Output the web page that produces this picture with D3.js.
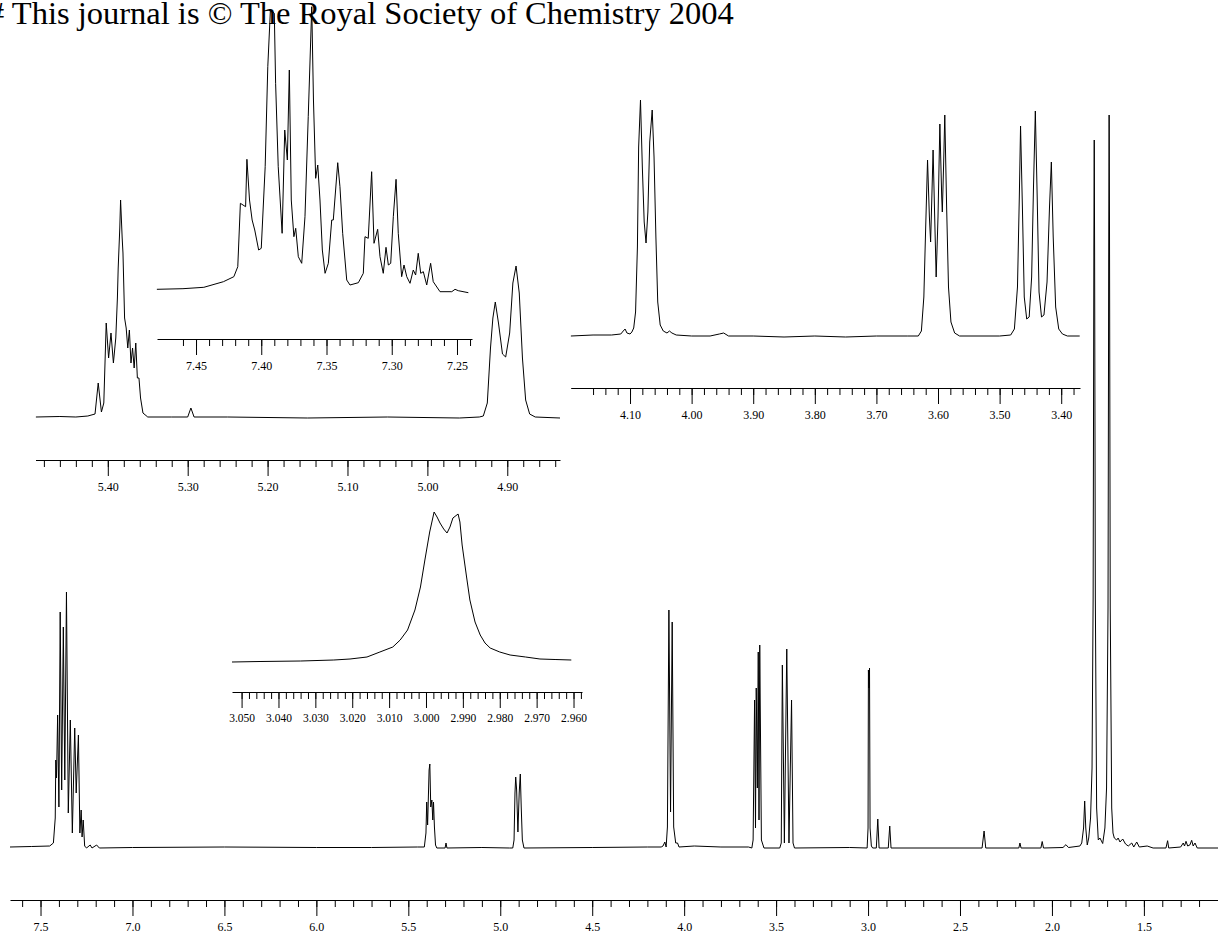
<!DOCTYPE html>
<html>
<head>
<meta charset="utf-8">
<script src="https://cdn.jsdelivr.net/npm/d3@7"></script>
<style>
  body { margin: 0; background: #fff; }
  svg { display: block; }
</style>
</head>
<body>
<div class="spectrum"></div>
<script>
// traced points [ppm, intensity]
const mainTrace = [
  [7.666,1],[7.55,1.5],[7.45,2],[7.430,5],[7.420,30],[7.417,88],[7.413,70],[7.407,133],[7.400,41],
  [7.393,236],[7.385,58],[7.376,221],[7.368,68],[7.359,256],[7.349,35],[7.338,128],[7.327,15],
  [7.314,120],[7.306,55],[7.294,113],[7.286,15],[7.279,38],[7.274,11],[7.268,28],[7.260,2],[7.25,0],
  [7.23,3],[7.22,0],[7.195,3],[7.18,0],[7.0,0.5],[6.5,1],[6.0,0.5],[5.7,0.5],[5.45,1],
  [5.413,1],[5.404,15],[5.400,46],[5.395,23],[5.387,78],[5.383,84],[5.378,41],[5.372,48],[5.367,28],
  [5.363,46],[5.358,21],[5.352,3],[5.345,0],[5.30,0],[5.295,5],[5.29,0],[5.1,0.5],[4.95,0],
  [4.932,0],[4.925,8],[4.920,55],[4.916,71],[4.911,58],[4.904,16],[4.897,55],[4.891,74],[4.886,41],
  [4.880,8],[4.871,0],[4.5,0.5],[4.2,1],[4.125,1],[4.115,2],[4.105,6],[4.098,1],[4.091,21],
  [4.083,238],[4.074,36],[4.065,226],[4.057,21],[4.046,5],[4.036,5],[4.028,1],[3.945,2],[3.8,1],
  [3.65,1],[3.632,0],[3.625,8],[3.617,148],[3.612,20],[3.608,160],[3.602,60],[3.597,196],[3.593,28],
  [3.589,203],[3.580,8],[3.566,0],[3.48,0],[3.472,5],[3.466,183],[3.455,5],[3.442,199],[3.430,5],
  [3.416,148],[3.408,5],[3.400,0],[3.1,0.5],[3.005,0],[3.000,20],[2.998,178],[2.995,160],[2.992,180],
  [2.989,20],[2.982,2],[2.975,0],[2.955,0],[2.947,29],[2.940,0],[2.89,0],[2.882,22],[2.875,0],
  [2.5,0],[2.38,0],[2.369,17],[2.36,0],[2.18,0],[2.174,5],[2.168,0],[2.06,0],[2.053,6.5],[2.046,0],
  [1.94,0.5],[1.924,3.3],[1.91,0.5],[1.848,2],[1.838,5],[1.828,20],[1.822,47],[1.816,20],[1.808,3],
  [1.800,10],[1.790,30],[1.782,80],[1.776,250],[1.772,600],[1.770,708],[1.768,600],[1.764,250],
  [1.757,40],[1.748,8],[1.739,10],[1.724,4.5],[1.712,20],[1.703,60],[1.695,240],[1.691,620],
  [1.689,733],[1.687,620],[1.683,240],[1.675,40],[1.668,15],[1.661,10],[1.648,8],[1.640,10],
  [1.630,6],[1.615,9],[1.600,4],[1.585,2],[1.566,5],[1.555,1],[1.539,6],[1.525,1],[1.482,2],
  [1.45,0],[1.38,0],[1.371,7.3],[1.365,0],[1.30,1],[1.286,5],[1.279,2],[1.271,6.7],[1.262,2],
  [1.250,3],[1.240,7.7],[1.232,2],[1.222,5],[1.210,0],[1.097,0]
];

const aromTrace = [
  [7.480,0.7],[7.460,1.3],[7.444,2.7],[7.429,8.3],[7.421,13.3],[7.418,23.3],[7.416,86.7],[7.412,83.3],
  [7.411,130.7],[7.409,90],[7.407,70],[7.405,60],[7.402,40],[7.400,41.7],[7.397,123.3],[7.395,223.3],
  [7.393,280],[7.390,276.7],[7.389,206.7],[7.387,123.3],[7.384,56.7],[7.382,160],[7.380,130],
  [7.3785,220],[7.377,90],[7.375,53.3],[7.3736,61.7],[7.3716,33.3],[7.369,26.7],[7.3665,73.3],
  [7.364,173.3],[7.3613,283.3],[7.360,190],[7.3583,111.7],[7.3567,125],[7.355,90],[7.3532,40],
  [7.3511,16.7],[7.3486,26.7],[7.346,70],[7.3448,70],[7.3414,127.3],[7.3397,103.3],[7.3376,56.7],
  [7.3345,10],[7.332,5],[7.3256,7.3],[7.3218,16.7],[7.3205,53.3],[7.318,51.7],[7.3154,118.3],
  [7.3136,46.7],[7.3108,60.7],[7.309,33.3],[7.3065,16.7],[7.3044,42.7],[7.3026,25],[7.3008,26.7],
  [7.2988,73.3],[7.2967,110.7],[7.295,56.7],[7.2924,13.3],[7.2906,25],[7.2885,13.3],[7.286,6.7],
  [7.2835,20],[7.2817,15],[7.2797,36.7],[7.2778,16.7],[7.2758,18.3],[7.2732,5],[7.2702,26.7],
  [7.2682,8.3],[7.263,-1.7],[7.254,-1.7],[7.2515,0.7],[7.249,-0.7],[7.2413,-2.7]
];

const olefTrace = [
  [5.490,1],[5.46,1.5],[5.44,1],[5.425,2],[5.416,4],[5.412,35],[5.408,6],[5.405,15],[5.402,95],
  [5.399,60],[5.396,85],[5.393,55],[5.390,80],[5.388,120],[5.387,150],[5.385,190],[5.384,218],
  [5.382,180],[5.381,165],[5.379,100],[5.377,90],[5.375,70],[5.373,88],[5.371,55],[5.369,70],
  [5.367,50],[5.365,75],[5.363,40],[5.361,40],[5.359,20],[5.356,5],[5.350,1],[5.32,1],[5.300,1],
  [5.296,10],[5.292,1],[5.25,1],[5.15,0],[5.05,1],[4.96,0],[4.935,1],[4.930,2],[4.925,15],
  [4.921,70],[4.918,100],[4.915,116],[4.911,95],[4.906,64],[4.902,61],[4.897,85],[4.893,135],
  [4.889,152],[4.885,125],[4.881,60],[4.877,18],[4.872,4],[4.865,1],[4.834,0]
];

const midTrace = [
  [4.196,1],[4.16,2],[4.13,2],[4.115,3],[4.111,6],[4.108,8],[4.105,4],[4.100,3],[4.097,5],[4.094,9],
  [4.091,25],[4.088,90],[4.086,190],[4.083,237],[4.080,170],[4.077,115],[4.074,94],[4.071,125],
  [4.068,195],[4.064,227],[4.061,180],[4.058,100],[4.055,35],[4.051,12],[4.046,6],[4.040,4],
  [4.036,6],[4.032,4],[4.025,2],[4.00,1],[3.97,1],[3.955,3],[3.948,4],[3.94,1],[3.90,1],[3.85,0],
  [3.80,1],[3.75,0],[3.70,1],[3.65,1],[3.632,1],[3.627,6],[3.623,40],[3.620,110],[3.617,177],
  [3.614,120],[3.612,95],[3.610,140],[3.608,187],[3.605,110],[3.603,60],[3.600,120],[3.597,213],
  [3.594,140],[3.593,125],[3.591,170],[3.589,222],[3.586,130],[3.583,50],[3.579,15],[3.573,4],
  [3.565,1],[3.50,1],[3.482,2],[3.476,8],[3.471,50],[3.468,140],[3.466,211],[3.463,130],[3.460,40],
  [3.456,18],[3.452,20],[3.448,60],[3.445,150],[3.442,226],[3.439,140],[3.436,45],[3.432,20],
  [3.428,22],[3.423,55],[3.419,130],[3.416,175],[3.413,100],[3.409,30],[3.404,8],[3.398,3],
  [3.39,1],[3.37,1]
];

const dblTrace = [
  [3.0526,0],[3.045,0.5],[3.034,1],[3.025,2],[3.0206,3],[3.016,5],[3.0125,10],[3.009,15],[3.007,22],
  [3.005,32],[3.003,52],[3.0015,75],[3.0003,102],[2.999,130],[2.9978,150],[2.997,145],[2.9962,139],
  [2.9952,133],[2.9943,129],[2.9935,135],[2.9927,144],[2.9913,148],[2.9908,140],[2.9902,117],
  [2.989,85],[2.9881,62],[2.9867,40],[2.9853,27],[2.984,19],[2.9826,14],[2.980,10],[2.9772,7],
  [2.973,5],[2.9691,3],[2.965,2.5],[2.9606,2]
];

// labelled ticks
const mainLabels = [7.5, 7.0, 6.5, 6.0, 5.5, 5.0, 4.5, 4.0, 3.5, 3.0, 2.5, 2.0, 1.5];
const aromLabels = [7.45, 7.40, 7.35, 7.30, 7.25];
const olefLabels = [5.40, 5.30, 5.20, 5.10, 5.00, 4.90];
const midLabels = [4.10, 4.00, 3.90, 3.80, 3.70, 3.60, 3.50, 3.40];
const dblLabels = [3.050, 3.040, 3.030, 3.020, 3.010, 3.000, 2.990, 2.980, 2.970, 2.960];

const W = 1218, H = 934;
const serif = '"Liberation Serif", "Times New Roman", Times, serif';

const svg = d3.select('.spectrum')
  .append('svg')
  .attr('width', W)
  .attr('height', H);

svg.append('rect').attr('width', W).attr('height', H).attr('fill', '#fff');

// header (cut at the left edge, as in the source page)
svg.append('text')
  .attr('x', -12)
  .attr('y', 24)
  .style('font-family', serif)
  .style('font-size', '32.5px')
  .attr('fill', '#000')
  .text('# This journal is \u00A9 The Royal Society of Chemistry 2004');

const panels = [
  { trace: mainTrace, dom: [7.666, 1.097], xr: [10, 1218], yMax: 733, yr: [848, 115], axisY: 900,
    minor: [7.6, 1.15, 0.1], labels: mainLabels, fmt: '.1f', font: 12 },
  { trace: aromTrace, dom: [7.4799, 7.2385], xr: [157, 472], yMax: 290, yr: [290, 0], axisY: 339,
    minor: [7.46, 7.235, 0.01], labels: aromLabels, fmt: '.2f', font: 12 },
  { trace: olefTrace, dom: [5.4905, 4.834], xr: [35.5, 560], yMax: 218, yr: [418, 200], axisY: 460,
    minor: [5.48, 4.835, 0.02], labels: olefLabels, fmt: '.2f', font: 12 },
  { trace: midTrace, dom: [4.1963, 3.3695], xr: [570.7, 1080], yMax: 237, yr: [337, 100], axisY: 388,
    minor: [4.16, 3.375, 0.02], labels: midLabels, fmt: '.2f', font: 12 },
  { trace: dblTrace, dom: [3.0526, 2.9577], xr: [232, 582], yMax: 150, yr: [662, 512], axisY: 692,
    minor: [3.050, 2.9575, 0.002], labels: dblLabels, fmt: '.3f', font: 11.5 }
];

panels.forEach(p => {
  const x = d3.scaleLinear().domain(p.dom).range(p.xr);
  const y = d3.scaleLinear().domain([0, p.yMax]).range(p.yr);

  const line = d3.line()
    .x(d => x(d[0]))
    .y(d => y(d[1]));

  svg.append('path')
    .datum(p.trace)
    .attr('fill', 'none')
    .attr('stroke', '#000')
    .attr('stroke-width', 1)
    .attr('stroke-linejoin', 'round')
    .attr('d', line);

  //eixo: ticks menores
  const minors = d3.range(p.minor[0], p.minor[1], -p.minor[2]);
  svg.append('g')
    .attr('transform', `translate(0,${p.axisY})`)
    .call(d3.axisBottom(x).tickValues(minors).tickSize(7).tickSizeOuter(0).tickFormat(''));

  //eixo: ticks maiores + rotulos
  const g = svg.append('g')
    .attr('transform', `translate(0,${p.axisY})`)
    .call(d3.axisBottom(x).tickValues(p.labels).tickSize(16).tickSizeOuter(0)
      .tickPadding(6).tickFormat(d3.format(p.fmt)));
  g.select('.domain').remove();
  g.selectAll('text')
    .style('font-family', serif)
    .style('font-size', p.font + 'px')
    .attr('fill', '#000');
});

svg.selectAll('.tick line, .domain').attr('stroke', '#000');
</script>
</body>
</html>
